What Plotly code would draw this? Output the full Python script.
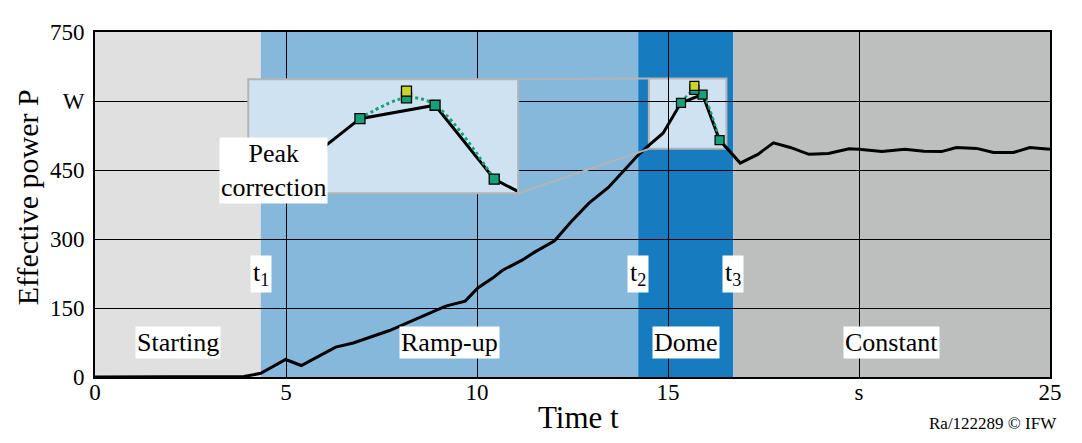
import plotly.graph_objects as go

# ---------------- data ----------------
t = [0, 1, 2, 3, 3.9, 4.34, 4.99, 5.40, 6.30, 6.76, 7.71, 9.18, 9.69, 10.03, 10.41,
     10.67, 11.18, 11.52, 12.03, 12.47, 12.93, 13.44, 13.83, 14.19, 14.52, 14.87,
     15.34, 15.905, 16.35, 16.89, 17.35, 17.76, 18.2, 18.69, 19.2, 19.74, 20.0,
     20.6, 21.2, 21.7, 22.16, 22.55, 23.08, 23.52, 24.04, 24.47, 25.0]
P = [0, 0, 0, 0, 1, 8, 38, 25, 65, 74, 101, 154, 165, 194, 215,
     232, 254, 272, 296, 338, 378, 412, 448, 480, 505, 530,
     596, 614, 515, 465, 484, 509, 499, 484, 486, 496, 495,
     490, 495, 491, 490, 499, 497, 488, 488, 499, 495]

measured_t = [15.34, 15.905, 16.35]
measured_P = [596, 614, 515]
peak_raw_t = [15.69]
peak_raw_P = [633]
corrected_t = [15.34, 15.69, 15.905, 16.35]
corrected_P = [596, 624, 614, 515]

phase_bounds = [0, 4.34, 14.22, 16.71, 25]
phase_names = ["Starting", "Ramp-up", "Dome", "Constant"]
phase_colors = ["#e0e0e0", "#86b8db", "#167bbf", "#bdbfbf"]
t_labels = ["t<sub>1</sub>", "t<sub>2</sub>", "t<sub>3</sub>"]

x_tickvals = [0, 5, 10, 15, 20, 25]
x_ticktext = ["0", "5", "10", "15", "s", "25"]
y_tickvals = [0, 150, 300, 450, 600, 750]
y_ticktext = ["0", "150", "300", "450", "W", "750"]

zoom_x = [14.50, 16.53]
zoom_y = [496, 649]

# ---------------- layout constants ----------------
FONT = "Liberation Serif"
INSET_BG = "#cfe2f1"
BORDER = "#b4b4b4"
GREEN = "#17a07a"
YELLOW = "#c9d42a"
inset_dom_x = [0.1605, 0.4431]
inset_dom_y = [0.5324, 0.8634]
XMAX, YMAX = 25, 750

fig = go.Figure()

# main line + markers
fig.add_trace(go.Scatter(x=t, y=P, mode="lines", line=dict(color="black", width=3),
                         xaxis="x", yaxis="y", showlegend=False))
fig.add_trace(go.Scatter(x=corrected_t, y=corrected_P, mode="lines",
                         line=dict(color=GREEN, width=2.5, dash="dot", shape="spline"),
                         xaxis="x", yaxis="y", showlegend=False))
fig.add_trace(go.Scatter(x=measured_t + [corrected_t[1]], y=measured_P + [corrected_P[1]],
                         mode="markers",
                         marker=dict(symbol="square", size=9, color=GREEN,
                                     line=dict(color="black", width=1.2)),
                         xaxis="x", yaxis="y", showlegend=False))
fig.add_trace(go.Scatter(x=peak_raw_t, y=peak_raw_P, mode="markers",
                         marker=dict(symbol="square", size=9, color=YELLOW,
                                     line=dict(color="black", width=1.2)),
                         xaxis="x", yaxis="y", showlegend=False))

# inset background (filled box spanning the inset axes' range)
fig.add_trace(go.Scatter(x=[zoom_x[0], zoom_x[1], zoom_x[1], zoom_x[0], zoom_x[0]],
                         y=[zoom_y[0], zoom_y[0], zoom_y[1], zoom_y[1], zoom_y[0]],
                         mode="lines", fill="toself", fillcolor=INSET_BG,
                         line=dict(width=0, color=INSET_BG), hoverinfo="skip",
                         xaxis="x2", yaxis="y2", showlegend=False))
# inset (same data, zoomed axes)
fig.add_trace(go.Scatter(x=t, y=P, mode="lines", line=dict(color="black", width=3),
                         xaxis="x2", yaxis="y2", showlegend=False))
fig.add_trace(go.Scatter(x=corrected_t, y=corrected_P, mode="lines",
                         line=dict(color=GREEN, width=3, dash="dot", shape="spline"),
                         xaxis="x2", yaxis="y2", showlegend=False))
fig.add_trace(go.Scatter(x=measured_t + [corrected_t[1]], y=measured_P + [corrected_P[1]],
                         mode="markers",
                         marker=dict(symbol="square", size=10, color=GREEN,
                                     line=dict(color="black", width=1.3)),
                         xaxis="x2", yaxis="y2", showlegend=False, cliponaxis=False))
fig.add_trace(go.Scatter(x=peak_raw_t, y=peak_raw_P, mode="markers",
                         marker=dict(symbol="square", size=10, color=YELLOW,
                                     line=dict(color="black", width=1.3)),
                         xaxis="x2", yaxis="y2", showlegend=False, cliponaxis=False))

shapes = []
# phase backgrounds
for i, c in enumerate(phase_colors):
    shapes.append(dict(type="rect", xref="x", yref="y", x0=phase_bounds[i], x1=phase_bounds[i + 1],
                       y0=0, y1=YMAX, fillcolor=c, line=dict(width=0), layer="below"))
# zoom source box
shapes.append(dict(type="rect", xref="x", yref="y", x0=zoom_x[0], x1=zoom_x[1],
                   y0=zoom_y[0], y1=zoom_y[1], fillcolor=INSET_BG,
                   line=dict(color=BORDER, width=2), layer="below"))
# inset border
shapes.append(dict(type="rect", xref="paper", yref="paper",
                   x0=inset_dom_x[0], x1=inset_dom_x[1], y0=inset_dom_y[0], y1=inset_dom_y[1],
                   line=dict(color=BORDER, width=2), layer="above"))
# connectors
shapes.append(dict(type="line", xref="paper", yref="paper",
                   x0=inset_dom_x[1], y0=inset_dom_y[1],
                   x1=zoom_x[0] / XMAX, y1=zoom_y[1] / YMAX,
                   line=dict(color=BORDER, width=2), layer="above"))
shapes.append(dict(type="line", xref="paper", yref="paper",
                   x0=inset_dom_x[1], y0=inset_dom_y[0],
                   x1=zoom_x[0] / XMAX, y1=zoom_y[0] / YMAX,
                   line=dict(color=BORDER, width=2), layer="above"))

annotations = []
lab_font = dict(family=FONT, size=26, color="black")
for i, name in enumerate(phase_names):
    annotations.append(dict(x=(phase_bounds[i] + phase_bounds[i + 1]) / 2, y=74, xref="x", yref="y",
                            text=name, showarrow=False, font=lab_font, bgcolor="white",
                            borderpad=1))
for i, lab in enumerate(t_labels):
    annotations.append(dict(x=phase_bounds[i + 1], y=223, xref="x", yref="y", text=lab,
                            showarrow=False, font=lab_font, bgcolor="white", borderpad=2))
annotations.append(dict(x=4.68, y=448, xref="x", yref="y", text="Peak<br>correction",
                        showarrow=False, font=lab_font, bgcolor="white", borderpad=1,
                        align="center"))
annotations.append(dict(x=0.506, y=-0.118, xref="paper", yref="paper", text="Time t",
                        showarrow=False, font=dict(family=FONT, size=31, color="black"),
                        yanchor="middle"))
annotations.append(dict(x=-0.0704, y=0.52, xref="paper", yref="paper", text="Effective power P",
                        showarrow=False, font=dict(family=FONT, size=30, color="black"),
                        textangle=-90, xanchor="center", yanchor="middle"))
annotations.append(dict(x=1.0093, y=-0.135, xref="paper", yref="paper", text="Ra/122289 © IFW",
                        showarrow=False, font=dict(family=FONT, size=17, color="black"),
                        xanchor="right", yanchor="middle"))

# The page keeps its default 8px body margin: the 1066x427 figure sits at (8, 8), so the
# page is exactly 1082x443; every text is kept inside the figure box.
fig.update_layout(
    width=1066, height=427, autosize=False,
    margin=dict(l=87, r=13, t=14, b=58),
    paper_bgcolor="white", plot_bgcolor="rgba(0,0,0,0)",
    font=dict(family=FONT, size=23, color="black"),
    xaxis=dict(range=[0, XMAX], tickvals=x_tickvals, ticktext=x_ticktext,
               showgrid=True, gridcolor="black", gridwidth=1, zeroline=False,
               showline=True, linecolor="black", linewidth=2, mirror=True,
               ticks="", ticklen=0, ticklabelstandoff=-7, ticklabeloverflow="allow"),
    yaxis=dict(range=[0, YMAX], tickvals=y_tickvals, ticktext=y_ticktext,
               showgrid=True, gridcolor="black", gridwidth=1, zeroline=False,
               showline=True, linecolor="black", linewidth=2, mirror=True,
               ticks="", ticklen=0, ticklabelstandoff=4),
    xaxis2=dict(domain=inset_dom_x, range=zoom_x, anchor="y2", visible=False),
    yaxis2=dict(domain=inset_dom_y, range=zoom_y, anchor="x2", visible=False),
    shapes=shapes,
    annotations=annotations,
)

fig.write_html("out.html",
               config={"responsive": False, "displayModeBar": False},
               post_script="document.querySelectorAll('.main-svg').forEach(function(e){e.style.overflow='visible';});")
